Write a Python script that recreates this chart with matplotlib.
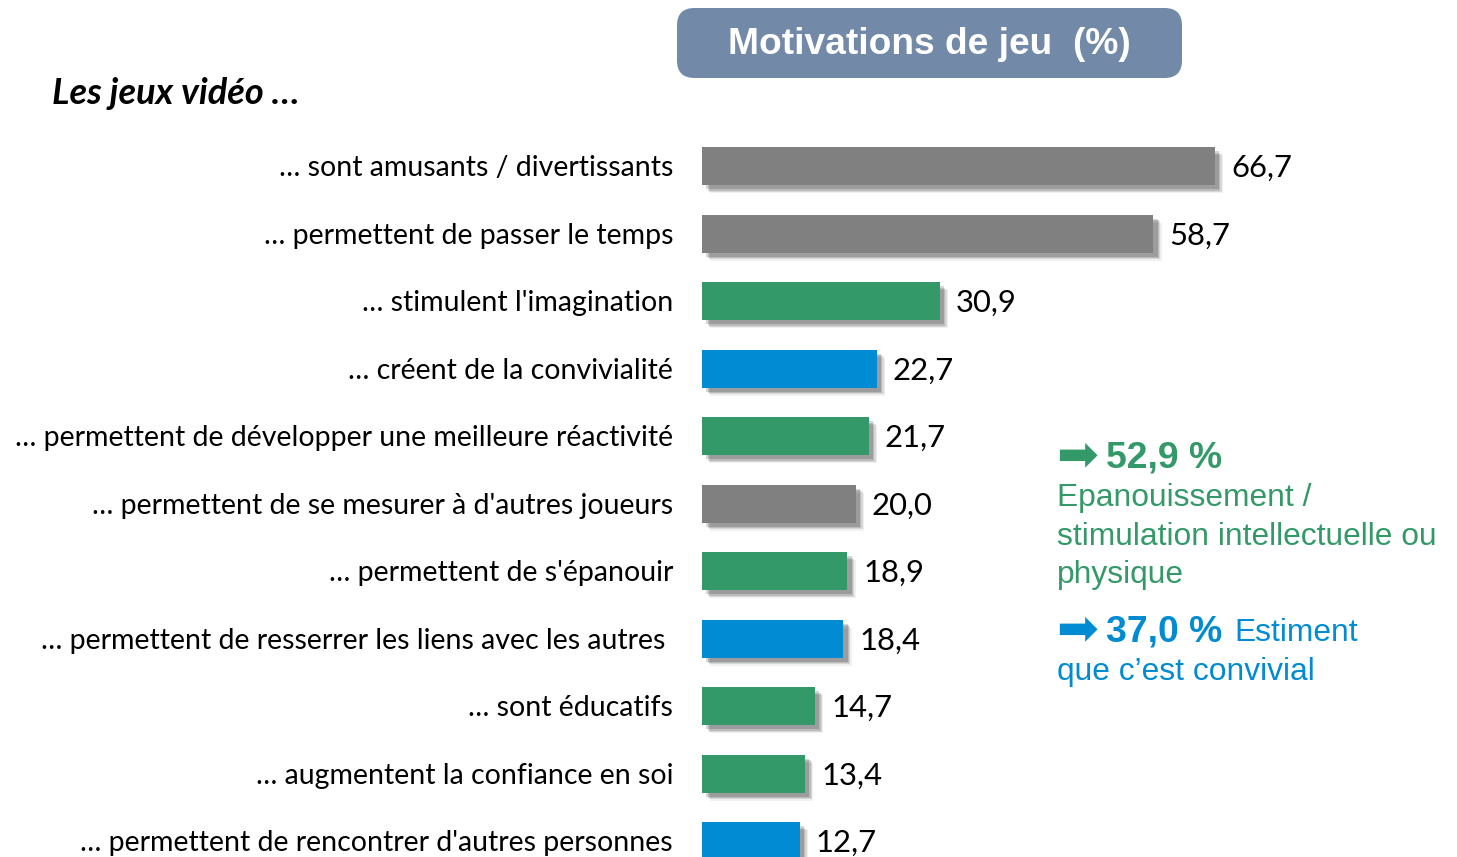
import matplotlib
matplotlib.use("Agg")
import matplotlib.pyplot as plt
from matplotlib.patches import FancyBboxPatch
import matplotlib.patheffects as pe

categories = [
    "… sont amusants / divertissants",
    "… permettent de passer le temps",
    "… stimulent l'imagination",
    "… créent de la convivialité",
    "… permettent de développer une meilleure réactivité",
    "… permettent de se mesurer à d'autres joueurs",
    "… permettent de s'épanouir",
    "… permettent de resserrer les liens avec les autres ",
    "… sont éducatifs",
    "… augmentent la confiance en soi",
    "… permettent de rencontrer d'autres personnes",
]
values = [66.7, 58.7, 30.9, 22.7, 21.7, 20.0, 18.9, 18.4, 14.7, 13.4, 12.7]
groups = ["autre", "autre", "epan", "conv", "epan", "autre", "epan", "conv", "epan", "epan", "conv"]
value_labels = ["66,7", "58,7", "30,9", "22,7", "21,7", "20,0", "18,9", "18,4", "14,7", "13,4", "12,7"]

group_colors = {"autre": "#808080", "epan": "#349968", "conv": "#008BD2"}

W, H = 1457, 857
fig = plt.figure(figsize=(W / 100, H / 100), dpi=100)
fig.patch.set_facecolor("white")

def fx(x):
    return x / W

def fy(y):
    return 1 - y / H

# axes: left edge at bar origin (702 px), full height
ax = fig.add_axes([fx(702), 0, 1 - fx(702), 1])
px_per_unit = 7.69
ax.set_xlim(0, (W - 702) / px_per_unit)
y0, dy = 166, 67.5
ax.set_ylim((H - y0) / dy, -y0 / dy)
ax.axis("off")

pos = list(range(len(categories)))
cols = [group_colors[g] for g in groups]
bars = ax.barh(pos, values, height=38 / dy, color=cols, zorder=3)
for b in bars:
    b.set_path_effects([
        pe.SimplePatchShadow(offset=(6, -6), shadow_rgbFace="#000000", alpha=0.06),
        pe.SimplePatchShadow(offset=(5, -5), shadow_rgbFace="#000000", alpha=0.10),
        pe.SimplePatchShadow(offset=(4, -4), shadow_rgbFace="#000000", alpha=0.13),
        pe.SimplePatchShadow(offset=(3, -3), shadow_rgbFace="#000000", alpha=0.16),
        pe.Normal(),
    ])

label_font = ["Lato", "DejaVu Sans"]
for i, (cat, v, vl) in enumerate(zip(categories, values, value_labels)):
    ax.text(-29 / px_per_unit, i + 0.03, cat, ha="right", va="center", fontsize=20.5,
            family=label_font, color="#000000", clip_on=False)
    ax.text(v + 16 / px_per_unit, i + 0.03, vl, ha="left", va="center", fontsize=22.3,
            family=label_font, color="#000000", clip_on=False)

# title box
box = FancyBboxPatch((fx(677), fy(78)), fx(1182) - fx(677), fy(8) - fy(78),
                     boxstyle="round,pad=0,rounding_size=0.012",
                     transform=fig.transFigure, facecolor="#7289A8", edgecolor="none",
                     mutation_aspect=W / H)
fig.patches.append(box)
fig.text(fx(929), fy(45), "Motivations de jeu  (%)", ha="center", va="center",
         fontsize=26.7, fontweight="bold", color="white", family="Liberation Sans")

fig.text(fx(52), fy(93), "Les jeux vidéo …", ha="left", va="center", fontsize=26,
         fontweight="bold", fontstyle="italic", family=label_font, color="black")

green = "#349968"
blue = "#008BD2"
fig.text(fx(1056), fy(456), "➡", ha="left", va="center", fontsize=36,
         color=green, family="DejaVu Sans")
fig.text(fx(1106), fy(458), "52,9 %", ha="left", va="center", fontsize=26.9,
         fontweight="bold", color=green, family="Liberation Sans")
for txt, yy in [("Epanouissement /", 498), ("stimulation intellectuelle ou", 537), ("physique", 575)]:
    fig.text(fx(1057), fy(yy), txt, ha="left", va="center", fontsize=22.9,
             color=green, family="Liberation Sans")

fig.text(fx(1056), fy(630), "➡", ha="left", va="center", fontsize=36,
         color=blue, family="DejaVu Sans")
fig.text(fx(1106), fy(632), "37,0 %", ha="left", va="center", fontsize=26.9,
         fontweight="bold", color=blue, family="Liberation Sans")
fig.text(fx(1234), fy(633), "Estiment", ha="left", va="center", fontsize=22.9,
         color=blue, family="Liberation Sans")
fig.text(fx(1057), fy(672), "que c’est convivial", ha="left", va="center", fontsize=22.9,
         color=blue, family="Liberation Sans")

fig.savefig("out.png", dpi=100, facecolor="white")
